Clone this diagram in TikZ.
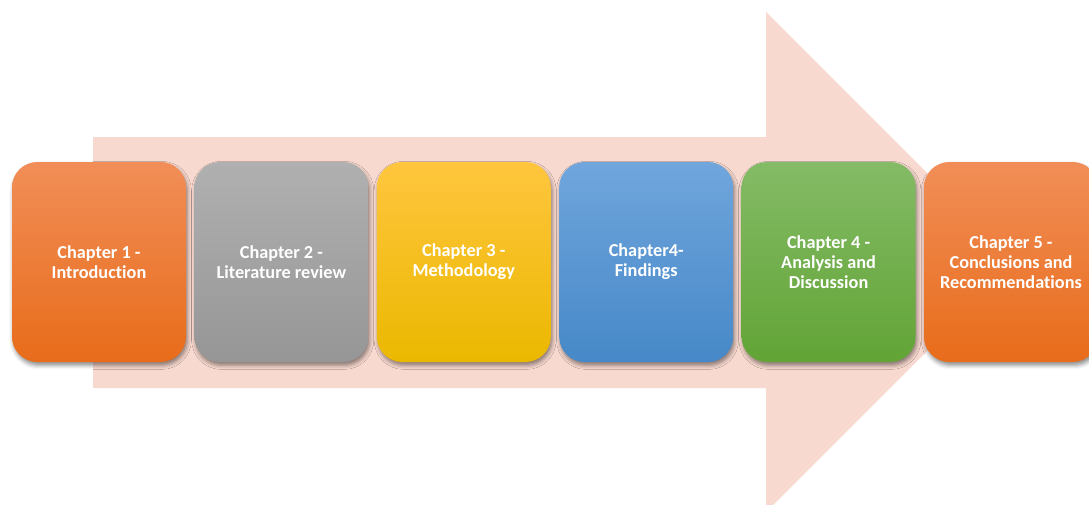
\documentclass[tikz,border=0pt]{standalone}
\usepackage{fontspec}
\setmainfont{Carlito}[Ligatures=NoCommon]
\usepackage{tikz}
\usetikzlibrary{positioning,shadows.blur}
\definecolor{arrowpink}{RGB}{248,217,207}
\definecolor{orgtop}{RGB}{241,142,88}
\definecolor{orgmid}{RGB}{244,124,44}
\definecolor{orgbot}{RGB}{232,108,26}
\definecolor{grytop}{RGB}{176,176,176}
\definecolor{grymid}{RGB}{165,165,165}
\definecolor{grybot}{RGB}{150,150,150}
\definecolor{gldtop}{RGB}{255,198,62}
\definecolor{gldmid}{RGB}{255,192,0}
\definecolor{gldbot}{RGB}{235,184,0}
\definecolor{blutop}{RGB}{112,166,220}
\definecolor{blumid}{RGB}{88,152,214}
\definecolor{blubot}{RGB}{70,136,200}
\definecolor{grntop}{RGB}{132,187,102}
\definecolor{grnmid}{RGB}{112,173,71}
\definecolor{grnbot}{RGB}{98,164,54}
\tikzset{
  chapbox/.style={rounded corners=19pt, minimum width=130.5pt, minimum height=150pt,
                  inner sep=2pt, outer sep=0pt, align=center, text=white,
                  font=\fontsize{13.7}{15.2}\selectfont\bfseries,
                  blur shadow={shadow xshift=1pt, shadow yshift=-2.5pt,
                               shadow blur radius=3pt, shadow opacity=45}},
  orangebox/.style={chapbox, top color=orgtop, middle color=orgmid, bottom color=orgbot},
  greybox/.style={chapbox, top color=grytop, middle color=grymid, bottom color=grybot},
  goldbox/.style={chapbox, top color=gldtop, middle color=gldmid, bottom color=gldbot},
  bluebox/.style={chapbox, top color=blutop, middle color=blumid, bottom color=blubot},
  greenbox/.style={chapbox, top color=grntop, middle color=grnmid, bottom color=grnbot},
  bigarrow/.style={fill=arrowpink, draw=none}
}
\begin{document}
\begin{tikzpicture}[x=0.75pt, y=-0.75pt, node distance=6.3pt]
\useasboundingbox (0,0) rectangle (1089,504);
\clip (0,0) rectangle (1089,504);
% background arrow
\fill[bigarrow] (93,137) -- (766,137) -- (766,12) -- (1016,262) -- (766,512)
  -- (766,388) -- (93,388) -- cycle;
% chapters
\node[orangebox] (ch1) at (99,262) {Chapter 1 -\\Introduction};
\node[greybox, right=of ch1] (ch2) {Chapter 2 -\\Literature review};
\node[goldbox, right=of ch2] (ch3) {Chapter 3 -\\Methodology};
\node[bluebox, right=of ch3] (ch4) {Chapter4-\\Findings};
\node[greenbox, right=of ch4] (ch5) {Chapter 4 -\\Analysis and\\Discussion};
\node[orangebox, right=of ch5] (ch6) {Chapter 5 -\\Conclusions and\\Recommendations};
\end{tikzpicture}
\end{document}
